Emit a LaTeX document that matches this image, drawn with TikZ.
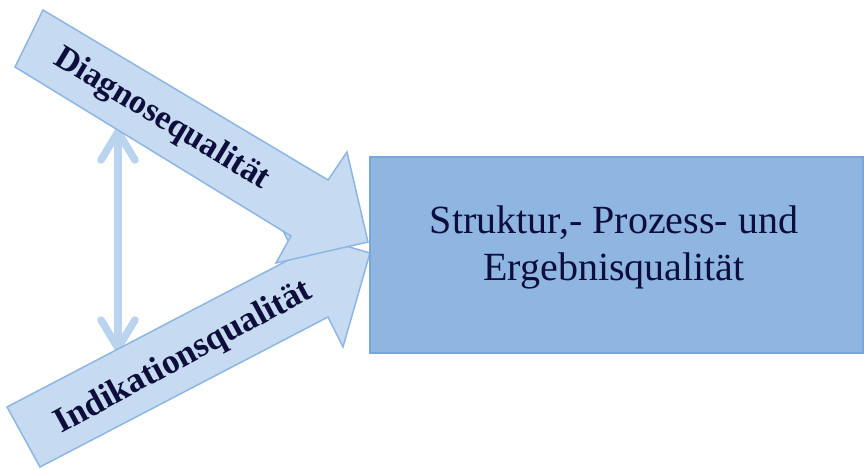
\documentclass[tikz,border=0pt]{standalone}
\usepackage{fontspec}
\setmainfont{Liberation Serif}
\usetikzlibrary{calc}
\definecolor{arrowfill}{HTML}{C6DBF2}
\definecolor{arrowline}{HTML}{8DB6E2}
\definecolor{boxfill}{HTML}{8FB5E1}
\definecolor{boxline}{HTML}{78A5DA}
\definecolor{txt}{HTML}{0E0E3C}
\definecolor{dblcol}{HTML}{BAD3EE}
\begin{document}
\begin{tikzpicture}[x=1pt,y=-1pt,
  bigarrow/.style={fill=arrowfill, draw=arrowline, line width=1.5pt, line join=miter},
  lbl/.style={font=\bfseries\fontsize{34}{40}\selectfont, text=txt, inner sep=0pt, anchor=base west},
  dblarrow/.style={draw=dblcol, line width=7.5pt, line cap=round, line join=round},
]
\useasboundingbox (0,0) rectangle (864,469);
% double arrow
\coordinate (dt) at (118,132);
\coordinate (db) at (118,348);
\draw[dblarrow] (dt) -- (db);
\draw[dblarrow] ($(dt)+(-17,28)$) -- (dt) -- ($(dt)+(17,28)$);
\draw[dblarrow] ($(db)+(-17,-28)$) -- (db) -- ($(db)+(17,-28)$);
% Indikation arrow
\draw[bigarrow] (7,407) -- (296,256) -- (281,227) -- (370,253) -- (343,347) -- (328,317) -- (40,467) -- cycle;
% Diagnose arrow
\draw[bigarrow] (43,10) -- (328,180) -- (347,152) -- (368,242) -- (276,263) -- (291,236) -- (15,67) -- cycle;
% box
\node[draw=boxline, fill=boxfill, line width=1.5pt, minimum width=493pt, minimum height=196pt, inner sep=0pt] (box) at (616.5,255) {};
\node[font=\fontsize{40}{47}\selectfont, text=txt, align=center, inner sep=0pt] (boxtext) at (614,247) {Struktur,- Prozess- und\\Ergebnisqualität};
\node[lbl, rotate=-31] (diag) at (52,63) {Diagnosequalität};
\node[lbl, rotate=28.5, font=\bfseries\fontsize{35}{40}\selectfont] (ind) at (61,434) {Indikationsqualität};
\end{tikzpicture}
\end{document}
